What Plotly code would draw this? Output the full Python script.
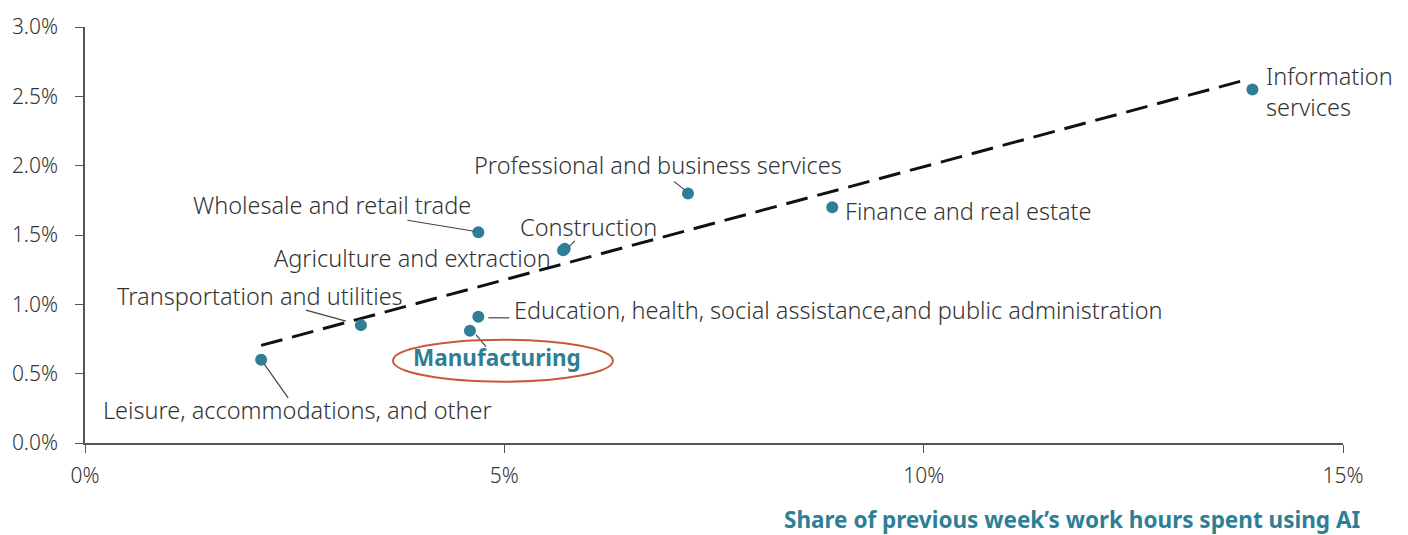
import numpy as np
import plotly.graph_objects as go

# Industry data: share of last week's hours spent using AI (x, %) vs. outcome (y, %)
industries = [
    "Leisure, accommodations, and other",
    "Transportation and utilities",
    "Manufacturing",
    "Education, health, social assistance,and public administration",
    "Wholesale and retail trade",
    "Agriculture and extraction",
    "Construction",
    "Professional and business services",
    "Finance and real estate",
    "Information<br>services",
]
ai_hours_share = [2.10, 3.29, 4.59, 4.69, 4.69, 5.70, 5.72, 7.19, 8.91, 13.92]
outcome_share = [0.60, 0.85, 0.81, 0.91, 1.52, 1.39, 1.40, 1.80, 1.70, 2.55]

x_ticks = [0, 5, 10, 15]
x_tick_text = ["0%", "5%", "10%", "15%"]
y_ticks = [0.0, 0.5, 1.0, 1.5, 2.0, 2.5, 3.0]
y_tick_text = ["0.0%", "0.5%", "1.0%", "1.5%", "2.0%", "2.5%", "3.0%"]

TEAL = "#2E7F95"
TEXT = "#333333"
FONT = "Noto Sans"
TICK_FS = 21
LABEL_FS = 23.5
BOLD_FS = 22.5

# Label placement per industry: (xshift px, yshift px, xanchor, leader line offsets or None)
label_layout = [
    (36, -50, "center", (3, -4, 27, -38)),
    (-101, 29, "center", (-55, 15, -15, 4)),
    (27, -27, "center", (6, -4, 16, -16)),
    (34, 7, "left", (10, -1, 31, -1)),
    (-5, 27, "right", (-71, 12, -4, 1)),
    (-10, -8, "right", None),
    (24, 22, "center", (4, 2, 10, 8)),
    (-30, 28, "center", (-14, 12, -4, 4)),
    (11, -4, "left", None),
    (12, -2, "left", None),
]

fig = go.Figure()

# Linear trend fitted through all industries
slope, intercept = np.polyfit(ai_hours_share, outcome_share, 1)
trend_x = np.array([min(ai_hours_share), max(ai_hours_share) - 0.1])
fig.add_trace(go.Scatter(
    x=trend_x, y=slope * trend_x + intercept, mode="lines",
    line=dict(color="#111111", width=3, dash="22px,10px"),
    hoverinfo="skip", showlegend=False,
))

fig.add_trace(go.Scatter(
    x=ai_hours_share, y=outcome_share, mode="markers",
    marker=dict(color=TEAL, size=12),
    text=[n.replace("<br>", " ") for n in industries],
    hovertemplate="%{text}<br>%{x:.1f}% / %{y:.2f}%<extra></extra>",
    showlegend=False,
))

annotations = []
shapes = []
for name, xv, yv, (dx, dy, anchor, leader) in zip(industries, ai_hours_share, outcome_share, label_layout):
    highlight = name == "Manufacturing"
    annotations.append(dict(
        x=xv, y=yv, xref="x", yref="y", text=f"<b>{name}</b>" if highlight else name,
        showarrow=False, xshift=dx, yshift=dy, xanchor=anchor, yanchor="middle",
        align="left",
        font=dict(family=FONT, size=BOLD_FS if highlight else LABEL_FS,
                  color=TEAL if highlight else TEXT,
                  weight=600 if highlight else 300),
    ))
    if leader is not None:
        x0, y0, x1, y1 = leader
        shapes.append(dict(
            type="line", xref="x", yref="y", xsizemode="pixel", ysizemode="pixel",
            xanchor=xv, yanchor=yv, x0=x0, y0=y0, x1=x1, y1=y1,
            line=dict(color="#444444", width=1.2),
        ))
    if highlight:
        shapes.append(dict(
            type="circle", xref="x", yref="y", xsizemode="pixel", ysizemode="pixel",
            xanchor=xv, yanchor=yv, x0=33 - 110, x1=33 + 110, y0=-30 - 21, y1=-30 + 21,
            line=dict(color="#C9573D", width=2),
        ))

annotations.append(dict(
    x=1, y=0, xref="paper", yref="paper", xanchor="right", yanchor="middle",
    xshift=19, yshift=-76, showarrow=False,
    text="<b>Share of previous week\u2019s work hours spent using AI</b>",
    font=dict(family=FONT, size=BOLD_FS, color=TEAL, weight=600),
))

axis_common = dict(
    showgrid=False, zeroline=False, showline=True, linecolor="#555555", linewidth=1.5,
    ticks="outside", ticklen=8, tickcolor="#555555", tickwidth=1.2,
    tickfont=dict(family=FONT, size=TICK_FS, color=TEXT, weight=300),
)

fig.update_layout(
    width=1408, height=535,
    margin=dict(l=83, r=65, t=21, b=92),
    paper_bgcolor="white", plot_bgcolor="white",
    xaxis=dict(range=[0, 15], tickvals=x_ticks, ticktext=x_tick_text,
               ticklabelstandoff=5, **axis_common),
    yaxis=dict(range=[0, 3], tickvals=y_ticks, ticktext=y_tick_text,
               ticklabelstandoff=13, **axis_common),
    annotations=annotations,
    shapes=shapes,
)

fig.write_html("out.html")
